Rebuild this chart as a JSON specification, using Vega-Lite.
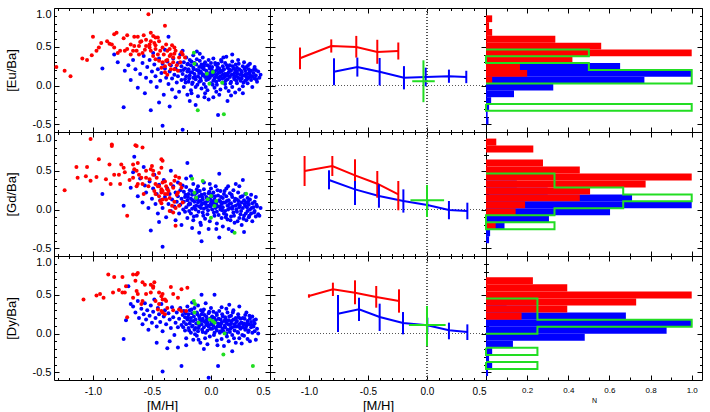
{
  "$schema": "https://vega.github.io/schema/vega-lite/v6.json",
  "background": "white",
  "padding": {"left": 4, "top": 7, "right": 5, "bottom": 0},
  "columns": 3,
  "spacing": 0,
  "bounds": "flush",
  "config": {
    "font": "Liberation Sans",
    "view": {"stroke": "#000000", "strokeWidth": 1},
    "axis": {"domain": false, "grid": false, "labels": false, "tickColor": "#000000", "tickWidth": 1, "labelColor": "#000000", "labelFont": "Liberation Sans", "labelFontSize": 11, "titleColor": "#000000", "titleFont": "Liberation Sans", "titleFontWeight": "normal", "titleFontSize": 13},
    "text": {"font": "Liberation Sans"}
  },
  "datasets": {
    "eu_thin": [
      {"mh":-0.92,"val":0.22},{"mh":-0.82,"val":0.40},{"mh":-0.79,"val":0.30},{"mh":-0.73,"val":0.19},{"mh":-0.70,"val":0.26},{"mh":-0.66,"val":0.33},{"mh":-0.64,"val":0.21},{"mh":-0.62,"val":-0.03},{"mh":-0.60,"val":0.15},{"mh":-0.58,"val":0.29},{"mh":-0.57,"val":0.38},{"mh":-0.55,"val":0.10},{"mh":-0.54,"val":0.24},{"mh":-0.52,"val":0.33},{"mh":-0.51,"val":0.05},{"mh":-0.50,"val":0.18},{"mh":-0.49,"val":0.42},{"mh":-0.48,"val":0.27},{"mh":-0.47,"val":0.12},{"mh":-0.46,"val":-0.02},{"mh":-0.45,"val":0.21},{"mh":-0.44,"val":0.35},{"mh":-0.43,"val":0.06},{"mh":-0.42,"val":0.16},{"mh":-0.41,"val":0.28},{"mh":-0.40,"val":-0.12},{"mh":-0.39,"val":0.22},{"mh":-0.38,"val":0.10},{"mh":-0.37,"val":0.31},{"mh":-0.36,"val":0.63},{"mh":-0.36,"val":0.02},{"mh":-0.35,"val":0.18},{"mh":-0.34,"val":0.26},{"mh":-0.33,"val":-0.05},{"mh":-0.33,"val":0.09},{"mh":-0.32,"val":0.35},{"mh":-0.31,"val":0.14},{"mh":-0.30,"val":0.22},{"mh":-0.30,"val":-0.15},{"mh":-0.29,"val":0.04},{"mh":-0.28,"val":0.29},{"mh":-0.28,"val":0.12},{"mh":-0.27,"val":-0.08},{"mh":-0.26,"val":0.19},{"mh":-0.26,"val":0.40},{"mh":-0.25,"val":0.07},{"mh":-0.25,"val":0.25},{"mh":-0.74,"val":-0.28},{"mh":-0.51,"val":-0.32},{"mh":-0.41,"val":-0.52},{"mh":-0.24,"val":-0.57},{"mh":-0.68,"val":0.07},{"mh":-0.56,"val":-0.10},{"mh":-0.39,"val":0.46},{"mh":-0.44,"val":-0.22},{"mh":-0.35,"val":-0.27},
      {"mh":-0.24,"val":0.15},{"mh":-0.23,"val":0.30},{"mh":-0.23,"val":-0.02},{"mh":-0.22,"val":0.22},{"mh":-0.22,"val":0.08},{"mh":-0.21,"val":0.36},{"mh":-0.21,"val":0.12},{"mh":-0.20,"val":-0.12},{"mh":-0.20,"val":0.18},{"mh":-0.20,"val":0.27},{"mh":-0.24,"val":0.45},
      {"mh":-0.19,"val":0.05},{"mh":-0.19,"val":0.21},{"mh":-0.18,"val":0.33},{"mh":-0.18,"val":0.13},{"mh":-0.17,"val":-0.06},{"mh":-0.17,"val":0.26},{"mh":-0.16,"val":0.17},{"mh":-0.16,"val":0.02},{"mh":-0.15,"val":0.39},{"mh":-0.15,"val":0.10},{"mh":-0.15,"val":0.23},{"mh":-0.18,"val":-0.20},
      {"mh":-0.14,"val":0.15},{"mh":-0.14,"val":0.29},{"mh":-0.13,"val":-0.02},{"mh":-0.13,"val":0.08},{"mh":-0.12,"val":0.20},{"mh":-0.12,"val":0.34},{"mh":-0.11,"val":0.12},{"mh":-0.11,"val":-0.14},{"mh":-0.10,"val":0.24},{"mh":-0.10,"val":0.05},{"mh":-0.10,"val":0.16},{"mh":-0.12,"val":0.44},{"mh":-0.13,"val":-0.25},
      {"mh":-0.09,"val":0.18},{"mh":-0.09,"val":0.09},{"mh":-0.08,"val":0.27},{"mh":-0.08,"val":-0.04},{"mh":-0.07,"val":0.13},{"mh":-0.07,"val":0.36},{"mh":-0.06,"val":0.21},{"mh":-0.06,"val":0.02},{"mh":-0.05,"val":0.11},{"mh":-0.05,"val":0.30},{"mh":-0.05,"val":-0.10},{"mh":-0.08,"val":0.16},{"mh":-0.06,"val":0.25},
      {"mh":-0.04,"val":0.19},{"mh":-0.04,"val":0.07},{"mh":-0.03,"val":0.26},{"mh":-0.03,"val":-0.06},{"mh":-0.02,"val":0.14},{"mh":-0.02,"val":0.33},{"mh":-0.01,"val":0.10},{"mh":-0.01,"val":0.22},{"mh":0.00,"val":0.03},{"mh":0.00,"val":0.17},{"mh":0.00,"val":0.29},{"mh":-0.02,"val":-0.18},{"mh":-0.03,"val":0.12},
      {"mh":0.01,"val":0.13},{"mh":0.01,"val":0.24},{"mh":0.02,"val":0.06},{"mh":0.02,"val":0.35},{"mh":0.03,"val":0.18},{"mh":0.03,"val":-0.03},{"mh":0.04,"val":0.11},{"mh":0.04,"val":0.27},{"mh":0.05,"val":0.20},{"mh":0.05,"val":0.01},{"mh":0.05,"val":0.14},{"mh":0.02,"val":-0.15},{"mh":0.03,"val":0.09},
      {"mh":0.06,"val":0.16},{"mh":0.06,"val":0.28},{"mh":0.07,"val":0.07},{"mh":0.07,"val":0.22},{"mh":0.08,"val":-0.05},{"mh":0.08,"val":0.12},{"mh":0.09,"val":0.31},{"mh":0.09,"val":0.18},{"mh":0.10,"val":0.04},{"mh":0.10,"val":0.14},{"mh":0.10,"val":0.25},{"mh":0.07,"val":-0.12},{"mh":0.08,"val":0.19},
      {"mh":0.11,"val":0.10},{"mh":0.11,"val":0.21},{"mh":0.12,"val":0.29},{"mh":0.12,"val":0.02},{"mh":0.13,"val":0.15},{"mh":0.13,"val":0.37},{"mh":0.14,"val":0.08},{"mh":0.14,"val":0.23},{"mh":0.15,"val":-0.07},{"mh":0.15,"val":0.17},{"mh":0.12,"val":0.12},{"mh":0.14,"val":-0.20},
      {"mh":0.16,"val":0.11},{"mh":0.16,"val":0.26},{"mh":0.17,"val":0.05},{"mh":0.17,"val":0.19},{"mh":0.18,"val":0.31},{"mh":0.18,"val":-0.02},{"mh":0.19,"val":0.14},{"mh":0.19,"val":0.22},{"mh":0.20,"val":0.08},{"mh":0.20,"val":0.16},{"mh":0.17,"val":-0.13},{"mh":0.18,"val":0.40},
      {"mh":0.21,"val":0.12},{"mh":0.21,"val":0.27},{"mh":0.22,"val":0.03},{"mh":0.22,"val":0.18},{"mh":0.23,"val":0.10},{"mh":0.23,"val":0.33},{"mh":0.24,"val":0.21},{"mh":0.24,"val":-0.05},{"mh":0.25,"val":0.14},{"mh":0.25,"val":0.06},{"mh":0.22,"val":0.23},
      {"mh":0.26,"val":0.17},{"mh":0.26,"val":0.09},{"mh":0.27,"val":0.25},{"mh":0.27,"val":-0.01},{"mh":0.28,"val":0.13},{"mh":0.28,"val":0.30},{"mh":0.29,"val":0.06},{"mh":0.29,"val":0.19},{"mh":0.30,"val":0.11},{"mh":0.30,"val":0.24},{"mh":0.27,"val":-0.10},
      {"mh":0.31,"val":0.15},{"mh":0.31,"val":0.03},{"mh":0.32,"val":0.21},{"mh":0.32,"val":0.10},{"mh":0.33,"val":0.28},{"mh":0.33,"val":0.14},{"mh":0.34,"val":0.07},{"mh":0.34,"val":0.19},{"mh":0.35,"val":0.12},{"mh":0.35,"val":-0.02},
      {"mh":0.36,"val":0.16},{"mh":0.37,"val":0.09},{"mh":0.37,"val":0.24},{"mh":0.38,"val":0.13},{"mh":0.39,"val":0.05},{"mh":0.40,"val":0.18},{"mh":0.41,"val":0.10},{"mh":0.42,"val":0.14},{"mh":0.38,"val":0.20},{"mh":0.06,"val":-0.38},
      {"mh":-0.195,"val":0.28},{"mh":-0.185,"val":0.09},{"mh":-0.175,"val":0.17},{"mh":-0.165,"val":0.31},{"mh":-0.155,"val":0.04},{"mh":-0.145,"val":0.21},{"mh":-0.135,"val":0.11},{"mh":-0.125,"val":0.27},{"mh":-0.115,"val":0.01},{"mh":-0.105,"val":0.19},{"mh":-0.095,"val":0.32},{"mh":-0.085,"val":0.06},{"mh":-0.075,"val":0.23},{"mh":-0.065,"val":0.14},{"mh":-0.055,"val":0.28},{"mh":-0.045,"val":-0.02},{"mh":-0.035,"val":0.17},{"mh":-0.025,"val":0.08},{"mh":-0.015,"val":0.25},{"mh":-0.005,"val":0.13},{"mh":0.005,"val":0.21},{"mh":0.015,"val":0.01},{"mh":0.025,"val":0.15},{"mh":0.035,"val":0.29},{"mh":0.045,"val":0.05},{"mh":0.055,"val":0.24},{"mh":0.065,"val":0.10},{"mh":0.075,"val":0.17},{"mh":0.085,"val":0.33},{"mh":0.095,"val":0.09},{"mh":0.105,"val":0.20},{"mh":0.115,"val":0.15},{"mh":0.125,"val":0.06},{"mh":0.135,"val":0.26},{"mh":0.145,"val":0.13},{"mh":0.155,"val":0.21},{"mh":0.165,"val":0.03},{"mh":0.175,"val":0.14},{"mh":0.185,"val":0.25},{"mh":0.195,"val":0.10},{"mh":0.205,"val":0.20},{"mh":0.215,"val":0.06},{"mh":0.225,"val":0.15},{"mh":0.235,"val":0.28},{"mh":0.245,"val":0.09},{"mh":0.255,"val":0.19},{"mh":0.265,"val":0.13},{"mh":0.275,"val":0.04},{"mh":0.285,"val":0.22},{"mh":0.295,"val":0.15},{"mh":0.305,"val":0.08},{"mh":0.315,"val":0.26},{"mh":0.325,"val":0.17},{"mh":0.345,"val":0.11},{"mh":0.365,"val":0.21},{"mh":0.385,"val":0.08},{"mh":-0.215,"val":0.04},{"mh":-0.235,"val":0.20},{"mh":-0.165,"val":-0.10},{"mh":0.045,"val":-0.08},{"mh":0.125,"val":-0.03},{"mh":0.205,"val":-0.09},{"mh":-0.055,"val":-0.15},{"mh":0.105,"val":0.36},{"mh":-0.095,"val":0.41}
    ],
    "eu_thick": [
      {"mh":-1.31,"val":0.24},{"mh":-1.24,"val":0.19},{"mh":-1.19,"val":0.12},{"mh":-1.09,"val":0.35},{"mh":-1.05,"val":0.33},{"mh":-1.01,"val":0.39},{"mh":-1.00,"val":0.63},{"mh":-0.97,"val":0.45},{"mh":-0.95,"val":0.49},{"mh":-0.93,"val":0.55},{"mh":-0.88,"val":0.57},{"mh":-0.86,"val":0.54},{"mh":-0.84,"val":0.53},{"mh":-0.82,"val":0.66},{"mh":-0.80,"val":0.68},{"mh":-0.82,"val":0.49},{"mh":-0.79,"val":0.42},{"mh":-0.77,"val":0.45},{"mh":-0.73,"val":0.45},{"mh":-0.71,"val":0.65},{"mh":-0.65,"val":0.63},{"mh":-0.62,"val":0.63},{"mh":-0.65,"val":0.51},{"mh":-0.63,"val":0.45},{"mh":-0.61,"val":0.51},{"mh":-0.57,"val":0.65},{"mh":-0.55,"val":0.59},{"mh":-0.53,"val":0.92},{"mh":-0.51,"val":0.68},{"mh":-0.49,"val":0.64},{"mh":-0.47,"val":0.62},{"mh":-0.55,"val":0.51},{"mh":-0.52,"val":0.49},{"mh":-0.51,"val":0.45},{"mh":-0.47,"val":0.47},{"mh":-0.45,"val":0.40},{"mh":-0.43,"val":0.45},{"mh":-0.41,"val":0.49},{"mh":-0.39,"val":0.77},{"mh":-0.38,"val":0.53},{"mh":-0.37,"val":0.45},{"mh":-0.35,"val":0.47},{"mh":-0.34,"val":0.40},{"mh":-0.32,"val":0.36},{"mh":-0.31,"val":0.49},{"mh":-0.30,"val":0.45},{"mh":-0.44,"val":0.32},{"mh":-0.41,"val":0.30},{"mh":-0.39,"val":0.25},{"mh":-0.38,"val":0.32},{"mh":-0.35,"val":0.27},{"mh":-0.34,"val":0.21},{"mh":-0.32,"val":0.30},{"mh":-0.31,"val":0.21},{"mh":-0.39,"val":0.17},{"mh":-0.37,"val":0.14},{"mh":-0.27,"val":0.36},{"mh":-0.24,"val":0.40},{"mh":-0.61,"val":0.40},{"mh":-0.58,"val":0.42},{"mh":-0.49,"val":0.38},{"mh":-0.47,"val":0.34},{"mh":-0.48,"val":0.55},{"mh":-0.52,"val":0.53},{"mh":-0.44,"val":0.57},{"mh":-0.59,"val":0.57},{"mh":-0.66,"val":0.45},{"mh":-0.68,"val":0.40},{"mh":-0.71,"val":0.47},{"mh":-0.29,"val":0.26},{"mh":-0.26,"val":0.30},{"mh":-0.42,"val":0.23},{"mh":-0.47,"val":0.52},{"mh":-0.56,"val":0.46},{"mh":-0.35,"val":0.38},{"mh":-0.31,"val":0.41},{"mh":-0.22,"val":0.36},{"mh":-0.45,"val":0.62},{"mh":-0.60,"val":0.56},{"mh":-0.68,"val":0.53},{"mh":-0.74,"val":0.61},{"mh":-0.40,"val":0.40},{"mh":-0.33,"val":0.52},{"mh":-0.37,"val":0.33},{"mh":-0.51,"val":0.57},{"mh":-0.28,"val":0.19},{"mh":-0.25,"val":0.43}
    ],
    "eu_hamr": [
      {"mh":-0.145,"val":0.424},{"mh":-0.14,"val":0.282},{"mh":-0.035,"val":0.153},{"mh":0.016,"val":0.174},{"mh":-0.013,"val":0.024},{"mh":0.095,"val":0.037},{"mh":-0.112,"val":-0.32},{"mh":0.109,"val":-0.372}
    ],
    "gd_thin": [
      {"mh":-0.92,"val":0.20},{"mh":-0.68,"val":0.28},{"mh":-0.65,"val":0.68},{"mh":-0.62,"val":0.17},{"mh":-0.60,"val":0.40},{"mh":-0.58,"val":0.09},{"mh":-0.56,"val":0.31},{"mh":-0.55,"val":0.22},{"mh":-0.53,"val":0.02},{"mh":-0.52,"val":0.36},{"mh":-0.51,"val":-0.27},{"mh":-0.50,"val":0.14},{"mh":-0.49,"val":0.27},{"mh":-0.48,"val":0.45},{"mh":-0.47,"val":0.07},{"mh":-0.46,"val":0.20},{"mh":-0.45,"val":-0.05},{"mh":-0.44,"val":0.32},{"mh":-0.43,"val":0.12},{"mh":-0.42,"val":0.24},{"mh":-0.41,"val":-0.48},{"mh":-0.41,"val":0.02},{"mh":-0.40,"val":0.38},{"mh":-0.39,"val":0.16},{"mh":-0.38,"val":-0.10},{"mh":-0.37,"val":0.27},{"mh":-0.36,"val":0.07},{"mh":-0.35,"val":0.20},{"mh":-0.34,"val":0.50},{"mh":-0.34,"val":-0.02},{"mh":-0.33,"val":0.13},{"mh":-0.32,"val":0.30},{"mh":-0.31,"val":0.04},{"mh":-0.30,"val":0.22},{"mh":-0.30,"val":-0.14},{"mh":-0.29,"val":0.10},{"mh":-0.28,"val":0.35},{"mh":-0.28,"val":0.17},{"mh":-0.27,"val":-0.05},{"mh":-0.26,"val":0.25},{"mh":-0.26,"val":0.06},{"mh":-0.25,"val":0.14},{"mh":-0.25,"val":-0.20},{"mh":-0.24,"val":0.31},{"mh":-0.20,"val":0.60},{"mh":-0.74,"val":0.05},{"mh":-0.66,"val":0.48},{"mh":-0.57,"val":0.55},{"mh":-0.44,"val":-0.16},
      {"mh":-0.23,"val":0.10},{"mh":-0.23,"val":0.23},{"mh":-0.22,"val":-0.03},{"mh":-0.22,"val":0.16},{"mh":-0.21,"val":0.03},{"mh":-0.21,"val":0.29},{"mh":-0.20,"val":-0.11},{"mh":-0.20,"val":0.12},{"mh":-0.19,"val":0.20},{"mh":-0.19,"val":0.06},{"mh":-0.21,"val":0.40},
      {"mh":-0.18,"val":0.08},{"mh":-0.18,"val":0.25},{"mh":-0.17,"val":-0.05},{"mh":-0.17,"val":0.14},{"mh":-0.16,"val":0.01},{"mh":-0.16,"val":0.19},{"mh":-0.15,"val":0.33},{"mh":-0.15,"val":-0.14},{"mh":-0.14,"val":0.10},{"mh":-0.14,"val":0.04},{"mh":-0.16,"val":-0.24},{"mh":-0.17,"val":0.43},
      {"mh":-0.13,"val":0.15},{"mh":-0.13,"val":0.00},{"mh":-0.12,"val":0.22},{"mh":-0.12,"val":-0.08},{"mh":-0.11,"val":0.09},{"mh":-0.11,"val":0.30},{"mh":-0.10,"val":0.04},{"mh":-0.10,"val":0.17},{"mh":-0.09,"val":-0.17},{"mh":-0.09,"val":0.11},{"mh":-0.12,"val":0.26},{"mh":-0.10,"val":-0.30},
      {"mh":-0.08,"val":0.06},{"mh":-0.08,"val":0.19},{"mh":-0.07,"val":-0.04},{"mh":-0.07,"val":0.13},{"mh":-0.06,"val":0.26},{"mh":-0.06,"val":0.01},{"mh":-0.05,"val":0.09},{"mh":-0.05,"val":-0.12},{"mh":-0.04,"val":0.16},{"mh":-0.04,"val":0.03},{"mh":-0.08,"val":-0.41},{"mh":-0.06,"val":0.35},{"mh":-0.07,"val":0.08},
      {"mh":-0.03,"val":0.11},{"mh":-0.03,"val":-0.06},{"mh":-0.02,"val":0.21},{"mh":-0.02,"val":0.05},{"mh":-0.01,"val":0.14},{"mh":-0.01,"val":-0.15},{"mh":0.00,"val":0.08},{"mh":0.00,"val":0.27},{"mh":0.01,"val":0.00},{"mh":0.01,"val":0.17},{"mh":-0.02,"val":-0.25},{"mh":0.00,"val":0.12},{"mh":-0.01,"val":0.33},
      {"mh":0.02,"val":0.06},{"mh":0.02,"val":0.22},{"mh":0.03,"val":-0.08},{"mh":0.03,"val":0.13},{"mh":0.04,"val":0.02},{"mh":0.04,"val":0.30},{"mh":0.05,"val":0.10},{"mh":0.05,"val":-0.18},{"mh":0.06,"val":0.18},{"mh":0.06,"val":0.04},{"mh":0.03,"val":0.08},{"mh":0.05,"val":-0.03},
      {"mh":0.07,"val":0.46},{"mh":0.07,"val":-0.36},{"mh":0.07,"val":0.12},{"mh":0.08,"val":0.00},{"mh":0.08,"val":0.24},{"mh":0.09,"val":0.07},{"mh":0.09,"val":-0.11},{"mh":0.10,"val":0.15},{"mh":0.10,"val":0.03},{"mh":0.11,"val":0.20},{"mh":0.11,"val":-0.05},{"mh":0.08,"val":0.10},{"mh":0.10,"val":-0.22},
      {"mh":0.12,"val":0.09},{"mh":0.12,"val":-0.02},{"mh":0.13,"val":0.17},{"mh":0.13,"val":0.27},{"mh":0.14,"val":0.05},{"mh":0.14,"val":-0.13},{"mh":0.15,"val":0.12},{"mh":0.15,"val":-0.25},{"mh":0.16,"val":0.02},{"mh":0.16,"val":0.21},{"mh":0.13,"val":-0.07},
      {"mh":0.17,"val":0.08},{"mh":0.17,"val":-0.09},{"mh":0.18,"val":0.16},{"mh":0.18,"val":0.01},{"mh":0.19,"val":0.25},{"mh":0.19,"val":-0.04},{"mh":0.20,"val":0.11},{"mh":0.20,"val":-0.17},{"mh":0.21,"val":0.05},{"mh":0.21,"val":0.33},{"mh":0.18,"val":-0.28},
      {"mh":0.22,"val":0.13},{"mh":0.22,"val":-0.03},{"mh":0.23,"val":0.07},{"mh":0.23,"val":0.22},{"mh":0.24,"val":-0.11},{"mh":0.24,"val":0.03},{"mh":0.25,"val":0.16},{"mh":0.25,"val":-0.06},{"mh":0.26,"val":0.09},{"mh":0.26,"val":-0.20},{"mh":0.24,"val":0.30},
      {"mh":0.27,"val":0.38},{"mh":0.27,"val":0.02},{"mh":0.28,"val":0.12},{"mh":0.28,"val":-0.08},{"mh":0.29,"val":0.05},{"mh":0.29,"val":0.20},{"mh":0.30,"val":-0.14},{"mh":0.30,"val":0.09},{"mh":0.31,"val":-0.02},{"mh":0.31,"val":0.15},{"mh":0.28,"val":-0.29},
      {"mh":0.32,"val":0.06},{"mh":0.32,"val":-0.10},{"mh":0.33,"val":0.13},{"mh":0.33,"val":0.00},{"mh":0.34,"val":-0.05},{"mh":0.34,"val":0.19},{"mh":0.35,"val":0.08},{"mh":0.35,"val":-0.15},{"mh":0.36,"val":0.03},
      {"mh":0.37,"val":-0.02},{"mh":0.37,"val":0.10},{"mh":0.38,"val":-0.09},{"mh":0.39,"val":0.04},{"mh":0.40,"val":-0.06},{"mh":0.41,"val":-0.08},{"mh":0.38,"val":0.16},{"mh":0.42,"val":0.02},
      {"mh":-0.195,"val":0.16},{"mh":-0.185,"val":-0.02},{"mh":-0.175,"val":0.07},{"mh":-0.165,"val":0.24},{"mh":-0.155,"val":0.12},{"mh":-0.145,"val":-0.09},{"mh":-0.135,"val":0.20},{"mh":-0.125,"val":0.05},{"mh":-0.115,"val":0.13},{"mh":-0.105,"val":-0.03},{"mh":-0.095,"val":0.24},{"mh":-0.085,"val":0.02},{"mh":-0.075,"val":0.16},{"mh":-0.065,"val":-0.08},{"mh":-0.055,"val":0.20},{"mh":-0.045,"val":0.07},{"mh":-0.035,"val":0.15},{"mh":-0.025,"val":-0.01},{"mh":-0.015,"val":0.23},{"mh":-0.005,"val":0.04},{"mh":0.005,"val":0.19},{"mh":0.015,"val":0.10},{"mh":0.025,"val":-0.04},{"mh":0.035,"val":0.17},{"mh":0.045,"val":0.06},{"mh":0.055,"val":0.25},{"mh":0.065,"val":-0.07},{"mh":0.075,"val":0.04},{"mh":0.085,"val":0.16},{"mh":0.095,"val":-0.01},{"mh":0.105,"val":0.09},{"mh":0.115,"val":0.24},{"mh":0.125,"val":-0.10},{"mh":0.135,"val":0.11},{"mh":0.145,"val":0.00},{"mh":0.155,"val":0.07},{"mh":0.165,"val":-0.14},{"mh":0.175,"val":0.19},{"mh":0.185,"val":0.04},{"mh":0.195,"val":-0.08},{"mh":0.205,"val":0.14},{"mh":0.215,"val":0.00},{"mh":0.225,"val":-0.15},{"mh":0.235,"val":0.11},{"mh":0.245,"val":0.05},{"mh":0.255,"val":-0.02},{"mh":0.265,"val":0.17},{"mh":0.275,"val":-0.12},{"mh":0.285,"val":0.07},{"mh":0.295,"val":-0.05},{"mh":0.305,"val":0.03},{"mh":0.315,"val":0.10},{"mh":0.325,"val":-0.08},{"mh":0.345,"val":0.02},{"mh":0.365,"val":-0.04},{"mh":0.385,"val":0.06},{"mh":-0.215,"val":0.19},{"mh":-0.235,"val":0.00},{"mh":0.045,"val":-0.25},{"mh":0.145,"val":0.30},{"mh":-0.085,"val":-0.20}
    ],
    "gd_thick": [
      {"mh":-1.24,"val":0.25},{"mh":-1.02,"val":0.91},{"mh":-0.84,"val":0.84},{"mh":-0.84,"val":0.82},{"mh":-0.64,"val":0.83},{"mh":-0.63,"val":0.82},{"mh":-0.58,"val":0.80},{"mh":-0.95,"val":0.65},{"mh":-1.13,"val":0.41},{"mh":-1.06,"val":0.43},{"mh":-0.97,"val":0.42},{"mh":-1.02,"val":0.37},{"mh":-1.14,"val":0.55},{"mh":-1.05,"val":0.55},{"mh":-0.86,"val":0.58},{"mh":-0.76,"val":0.58},{"mh":-0.74,"val":0.54},{"mh":-0.78,"val":0.45},{"mh":-0.77,"val":0.33},{"mh":-0.85,"val":0.33},{"mh":-0.66,"val":0.58},{"mh":-0.65,"val":0.52},{"mh":-0.63,"val":0.50},{"mh":-0.61,"val":0.45},{"mh":-0.59,"val":0.41},{"mh":-0.66,"val":0.41},{"mh":-0.62,"val":0.33},{"mh":-0.58,"val":0.33},{"mh":-0.55,"val":0.50},{"mh":-0.51,"val":0.52},{"mh":-0.49,"val":0.50},{"mh":-0.49,"val":0.45},{"mh":-0.55,"val":0.41},{"mh":-0.52,"val":0.39},{"mh":-0.42,"val":0.65},{"mh":-0.42,"val":0.54},{"mh":-0.41,"val":0.63},{"mh":-0.41,"val":0.35},{"mh":-0.47,"val":0.33},{"mh":-0.45,"val":0.30},{"mh":-0.44,"val":0.30},{"mh":-0.42,"val":0.26},{"mh":-0.41,"val":0.24},{"mh":-0.39,"val":0.20},{"mh":-0.37,"val":0.20},{"mh":-0.38,"val":0.30},{"mh":-0.37,"val":0.26},{"mh":-0.34,"val":0.33},{"mh":-0.32,"val":0.28},{"mh":-0.31,"val":0.37},{"mh":-0.47,"val":0.20},{"mh":-0.44,"val":0.17},{"mh":-0.43,"val":0.11},{"mh":-0.41,"val":0.13},{"mh":-0.38,"val":0.13},{"mh":-0.42,"val":0.22},{"mh":-0.30,"val":0.43},{"mh":-0.27,"val":0.41},{"mh":-0.25,"val":0.28},{"mh":-0.28,"val":0.22},{"mh":-0.30,"val":0.02},{"mh":-0.35,"val":-0.02},{"mh":-0.32,"val":-0.04},{"mh":-0.27,"val":0.05},{"mh":-0.24,"val":0.09},{"mh":-0.30,"val":-0.21},{"mh":-0.71,"val":-0.08},{"mh":-0.63,"val":0.30},{"mh":-0.89,"val":0.39},{"mh":-0.82,"val":0.45},{"mh":-0.73,"val":0.48},{"mh":-0.35,"val":0.15},{"mh":-0.31,"val":0.10},{"mh":-0.46,"val":0.41},{"mh":-0.53,"val":0.30},{"mh":-0.57,"val":0.20},{"mh":-0.39,"val":0.36},{"mh":-0.48,"val":0.24},{"mh":-0.29,"val":0.19},{"mh":-0.33,"val":0.05},{"mh":-0.26,"val":0.33},{"mh":-0.44,"val":0.47},{"mh":-0.69,"val":0.38},{"mh":-0.36,"val":0.24},{"mh":-0.42,"val":0.08},{"mh":-0.50,"val":0.56},{"mh":-0.62,"val":0.60}
    ],
    "gd_hamr": [
      {"mh":-0.16,"val":0.398},{"mh":-0.14,"val":0.217},{"mh":-0.126,"val":0.153},{"mh":-0.027,"val":0.131},{"mh":0.001,"val":0.174},{"mh":0.03,"val":0.045},{"mh":0.044,"val":0.11},{"mh":-0.07,"val":0.368},{"mh":0.0,"val":-0.105},{"mh":0.2,"val":-0.299},{"mh":0.298,"val":0.204}
    ],
    "dy_thin": [
      {"mh":-0.74,"val":-0.07},{"mh":-0.72,"val":0.17},{"mh":-0.70,"val":0.61},{"mh":-0.68,"val":0.38},{"mh":-0.66,"val":0.35},{"mh":-0.64,"val":0.27},{"mh":-0.62,"val":0.42},{"mh":-0.61,"val":0.20},{"mh":-0.59,"val":0.32},{"mh":-0.58,"val":0.12},{"mh":-0.57,"val":0.25},{"mh":-0.56,"val":0.39},{"mh":-0.55,"val":0.18},{"mh":-0.54,"val":0.30},{"mh":-0.53,"val":0.05},{"mh":-0.52,"val":0.23},{"mh":-0.51,"val":0.36},{"mh":-0.50,"val":0.14},{"mh":-0.49,"val":0.28},{"mh":-0.48,"val":0.44},{"mh":-0.47,"val":0.20},{"mh":-0.46,"val":0.09},{"mh":-0.45,"val":0.33},{"mh":-0.44,"val":0.25},{"mh":-0.43,"val":0.15},{"mh":-0.42,"val":0.38},{"mh":-0.41,"val":-0.49},{"mh":-0.41,"val":0.03},{"mh":-0.40,"val":0.22},{"mh":-0.39,"val":0.30},{"mh":-0.38,"val":0.12},{"mh":-0.37,"val":-0.19},{"mh":-0.36,"val":0.26},{"mh":-0.35,"val":0.18},{"mh":-0.34,"val":0.07},{"mh":-0.33,"val":0.34},{"mh":-0.32,"val":0.21},{"mh":-0.31,"val":-0.02},{"mh":-0.30,"val":0.14},{"mh":-0.29,"val":0.27},{"mh":-0.28,"val":-0.18},{"mh":-0.28,"val":0.08},{"mh":-0.27,"val":0.19},{"mh":-0.26,"val":0.33},{"mh":-0.25,"val":-0.42},{"mh":-0.25,"val":0.11},{"mh":-0.24,"val":0.24},{"mh":-0.46,"val":-0.12},{"mh":-0.35,"val":-0.10},
      {"mh":-0.23,"val":0.15},{"mh":-0.23,"val":0.29},{"mh":-0.22,"val":0.04},{"mh":-0.22,"val":0.21},{"mh":-0.21,"val":-0.06},{"mh":-0.21,"val":0.12},{"mh":-0.20,"val":0.35},{"mh":-0.20,"val":0.18},{"mh":-0.19,"val":0.07},{"mh":-0.19,"val":0.25},{"mh":-0.21,"val":-0.15},
      {"mh":-0.18,"val":0.13},{"mh":-0.18,"val":0.30},{"mh":-0.17,"val":0.01},{"mh":-0.17,"val":0.20},{"mh":-0.16,"val":0.09},{"mh":-0.16,"val":0.26},{"mh":-0.15,"val":-0.08},{"mh":-0.15,"val":0.16},{"mh":-0.14,"val":0.05},{"mh":-0.14,"val":0.33},{"mh":-0.16,"val":0.40},
      {"mh":-0.13,"val":0.18},{"mh":-0.13,"val":0.07},{"mh":-0.12,"val":0.27},{"mh":-0.12,"val":-0.03},{"mh":-0.11,"val":0.14},{"mh":-0.11,"val":0.36},{"mh":-0.10,"val":0.10},{"mh":-0.10,"val":0.22},{"mh":-0.09,"val":-0.12},{"mh":-0.09,"val":0.16},{"mh":-0.08,"val":0.50},{"mh":-0.11,"val":0.03},
      {"mh":-0.08,"val":0.12},{"mh":-0.08,"val":0.25},{"mh":-0.07,"val":0.02},{"mh":-0.07,"val":0.19},{"mh":-0.06,"val":0.31},{"mh":-0.06,"val":0.08},{"mh":-0.05,"val":0.15},{"mh":-0.05,"val":-0.06},{"mh":-0.04,"val":0.22},{"mh":-0.04,"val":0.11},{"mh":-0.06,"val":-0.20},{"mh":-0.07,"val":0.28},
      {"mh":-0.03,"val":0.14},{"mh":-0.03,"val":0.04},{"mh":-0.02,"val":0.26},{"mh":-0.02,"val":-0.57},{"mh":-0.02,"val":0.09},{"mh":-0.01,"val":0.19},{"mh":-0.01,"val":-0.04},{"mh":0.00,"val":0.12},{"mh":0.00,"val":0.33},{"mh":0.01,"val":0.06},{"mh":0.01,"val":0.22},{"mh":-0.03,"val":-0.14},{"mh":0.00,"val":0.16},
      {"mh":0.02,"val":0.10},{"mh":0.02,"val":0.28},{"mh":0.03,"val":0.50},{"mh":0.03,"val":0.01},{"mh":0.04,"val":0.17},{"mh":0.04,"val":0.07},{"mh":0.05,"val":0.24},{"mh":0.05,"val":-0.09},{"mh":0.06,"val":0.13},{"mh":0.06,"val":-0.42},{"mh":0.03,"val":0.20},{"mh":0.05,"val":0.04},
      {"mh":0.07,"val":0.11},{"mh":0.07,"val":0.29},{"mh":0.08,"val":0.03},{"mh":0.08,"val":0.18},{"mh":0.09,"val":-0.07},{"mh":0.09,"val":0.14},{"mh":0.10,"val":0.22},{"mh":0.10,"val":0.06},{"mh":0.11,"val":0.16},{"mh":0.11,"val":-0.16},{"mh":0.08,"val":0.09},{"mh":0.09,"val":0.34},
      {"mh":0.12,"val":0.08},{"mh":0.12,"val":0.21},{"mh":0.13,"val":0.00},{"mh":0.13,"val":0.14},{"mh":0.14,"val":0.27},{"mh":0.14,"val":0.05},{"mh":0.15,"val":0.17},{"mh":0.15,"val":-0.10},{"mh":0.16,"val":0.11},{"mh":0.16,"val":0.02},{"mh":0.13,"val":0.32},
      {"mh":0.17,"val":0.13},{"mh":0.17,"val":0.23},{"mh":0.18,"val":-0.02},{"mh":0.18,"val":0.08},{"mh":0.19,"val":0.18},{"mh":0.19,"val":0.30},{"mh":0.20,"val":0.04},{"mh":0.20,"val":0.12},{"mh":0.21,"val":-0.12},{"mh":0.21,"val":0.20},{"mh":0.18,"val":-0.23},
      {"mh":0.22,"val":0.09},{"mh":0.22,"val":0.16},{"mh":0.23,"val":0.25},{"mh":0.23,"val":0.01},{"mh":0.24,"val":0.12},{"mh":0.24,"val":-0.06},{"mh":0.25,"val":0.19},{"mh":0.25,"val":0.06},{"mh":0.26,"val":0.14},{"mh":0.26,"val":-0.13},{"mh":0.24,"val":0.35},
      {"mh":0.27,"val":0.08},{"mh":0.27,"val":0.20},{"mh":0.28,"val":-0.03},{"mh":0.28,"val":0.13},{"mh":0.29,"val":0.05},{"mh":0.29,"val":0.24},{"mh":0.30,"val":0.27},{"mh":0.30,"val":0.10},{"mh":0.31,"val":-0.07},{"mh":0.31,"val":0.16},
      {"mh":0.32,"val":0.04},{"mh":0.32,"val":0.12},{"mh":0.33,"val":0.19},{"mh":0.33,"val":-0.10},{"mh":0.34,"val":0.08},{"mh":0.34,"val":0.15},{"mh":0.35,"val":0.01},{"mh":0.35,"val":0.22},{"mh":0.36,"val":0.09},
      {"mh":0.37,"val":0.13},{"mh":0.37,"val":0.03},{"mh":0.38,"val":-0.08},{"mh":0.38,"val":0.18},{"mh":0.39,"val":0.06},{"mh":0.40,"val":0.00},
      {"mh":-0.195,"val":0.21},{"mh":-0.185,"val":0.04},{"mh":-0.175,"val":0.16},{"mh":-0.165,"val":0.31},{"mh":-0.155,"val":0.10},{"mh":-0.145,"val":0.22},{"mh":-0.135,"val":-0.01},{"mh":-0.125,"val":0.13},{"mh":-0.115,"val":0.25},{"mh":-0.105,"val":0.07},{"mh":-0.095,"val":0.19},{"mh":-0.085,"val":0.30},{"mh":-0.075,"val":0.05},{"mh":-0.065,"val":0.16},{"mh":-0.055,"val":0.24},{"mh":-0.045,"val":0.01},{"mh":-0.035,"val":0.18},{"mh":-0.025,"val":0.11},{"mh":-0.015,"val":0.28},{"mh":-0.005,"val":0.06},{"mh":0.005,"val":0.20},{"mh":0.015,"val":0.12},{"mh":0.025,"val":-0.02},{"mh":0.035,"val":0.15},{"mh":0.045,"val":0.26},{"mh":0.055,"val":0.09},{"mh":0.065,"val":0.19},{"mh":0.075,"val":0.01},{"mh":0.085,"val":0.13},{"mh":0.095,"val":0.25},{"mh":0.105,"val":0.03},{"mh":0.115,"val":0.10},{"mh":0.125,"val":0.18},{"mh":0.135,"val":-0.04},{"mh":0.145,"val":0.12},{"mh":0.155,"val":0.22},{"mh":0.165,"val":0.06},{"mh":0.175,"val":0.16},{"mh":0.185,"val":0.27},{"mh":0.195,"val":-0.06},{"mh":0.205,"val":0.09},{"mh":0.215,"val":0.15},{"mh":0.225,"val":0.02},{"mh":0.235,"val":0.21},{"mh":0.245,"val":0.08},{"mh":0.255,"val":0.14},{"mh":0.265,"val":-0.02},{"mh":0.275,"val":0.11},{"mh":0.285,"val":0.19},{"mh":0.295,"val":0.07},{"mh":0.305,"val":0.13},{"mh":0.315,"val":0.02},{"mh":0.325,"val":0.23},{"mh":0.345,"val":0.11},{"mh":0.365,"val":0.17},{"mh":-0.215,"val":0.26},{"mh":-0.235,"val":0.08},{"mh":0.055,"val":-0.15},{"mh":-0.105,"val":-0.08},{"mh":0.155,"val":0.37},{"mh":-0.045,"val":0.39}
    ],
    "dy_thick": [
      {"mh":-1.08,"val":0.44},{"mh":-0.97,"val":0.49},{"mh":-0.94,"val":0.51},{"mh":-0.91,"val":0.46},{"mh":-0.87,"val":0.76},{"mh":-0.82,"val":0.73},{"mh":-0.78,"val":0.56},{"mh":-0.75,"val":0.53},{"mh":-0.73,"val":0.53},{"mh":-0.71,"val":0.21},{"mh":-0.75,"val":0.73},{"mh":-0.66,"val":0.76},{"mh":-0.63,"val":0.76},{"mh":-0.62,"val":0.78},{"mh":-0.64,"val":0.68},{"mh":-0.62,"val":0.51},{"mh":-0.58,"val":0.66},{"mh":-0.51,"val":0.63},{"mh":-0.49,"val":0.61},{"mh":-0.49,"val":0.59},{"mh":-0.48,"val":0.66},{"mh":-0.44,"val":0.53},{"mh":-0.42,"val":0.48},{"mh":-0.41,"val":0.51},{"mh":-0.41,"val":0.44},{"mh":-0.39,"val":0.44},{"mh":-0.38,"val":0.42},{"mh":-0.44,"val":0.38},{"mh":-0.42,"val":0.29},{"mh":-0.41,"val":0.27},{"mh":-0.34,"val":0.60},{"mh":-0.25,"val":0.57},{"mh":-0.20,"val":0.59},{"mh":-0.27,"val":0.31},{"mh":-0.25,"val":0.29},{"mh":-0.21,"val":0.29},{"mh":-0.28,"val":0.46},{"mh":-0.32,"val":0.30},{"mh":-0.59,"val":0.38},{"mh":-0.58,"val":0.42},{"mh":-0.56,"val":0.63},{"mh":-0.72,"val":0.61},{"mh":-0.83,"val":0.53},{"mh":-0.55,"val":0.51},{"mh":-0.47,"val":0.42},{"mh":-0.37,"val":0.33},{"mh":-0.51,"val":0.53},{"mh":-0.63,"val":0.55},{"mh":-0.66,"val":0.46},{"mh":-0.32,"val":0.51},{"mh":-0.39,"val":0.25},{"mh":-0.45,"val":0.31}
    ],
    "dy_hamr": [
      {"mh":-0.145,"val":0.42},{"mh":-0.135,"val":0.38},{"mh":-0.14,"val":0.27},{"mh":-0.105,"val":0.14},{"mh":-0.01,"val":0.18},{"mh":0.015,"val":0.16},{"mh":0.03,"val":0.14},{"mh":0.115,"val":0.0},{"mh":0.105,"val":-0.27},{"mh":0.355,"val":-0.42}
    ],
    "eu_means": [
      {"pop":"thick","mh":-1.076,"mean":0.351,"lo":0.21,"hi":0.49},
      {"pop":"thick","mh":-0.811,"mean":0.51,"lo":0.425,"hi":0.595},
      {"pop":"thick","mh":-0.599,"mean":0.497,"lo":0.36,"hi":0.64},
      {"pop":"thick","mh":-0.421,"mean":0.432,"lo":0.28,"hi":0.59},
      {"pop":"thick","mh":-0.243,"mean":0.445,"lo":0.335,"hi":0.555},
      {"pop":"thin","mh":-0.788,"mean":0.177,"lo":0.003,"hi":0.351},
      {"pop":"thin","mh":-0.59,"mean":0.237,"lo":0.115,"hi":0.36},
      {"pop":"thin","mh":-0.401,"mean":0.177,"lo":0.0,"hi":0.355},
      {"pop":"thin","mh":-0.195,"mean":0.1,"lo":-0.05,"hi":0.25},
      {"pop":"thin","mh":-0.011,"mean":0.11,"lo":-0.01,"hi":0.23},
      {"pop":"thin","mh":0.186,"mean":0.12,"lo":0.035,"hi":0.205},
      {"pop":"thin","mh":0.333,"mean":0.11,"lo":0.03,"hi":0.19},
      {"pop":"hamr","mh":-0.03,"mean":0.055,"lo":-0.215,"hi":0.325,"mhlo":-0.125,"mhhi":0.066}
    ],
    "gd_means": [
      {"pop":"thick","mh":-1.037,"mean":0.497,"lo":0.303,"hi":0.69},
      {"pop":"thick","mh":-0.802,"mean":0.561,"lo":0.432,"hi":0.69},
      {"pop":"thick","mh":-0.61,"mean":0.441,"lo":0.217,"hi":0.648},
      {"pop":"thick","mh":-0.421,"mean":0.333,"lo":0.152,"hi":0.497},
      {"pop":"thick","mh":-0.243,"mean":0.196,"lo":-0.01,"hi":0.368},
      {"pop":"thin","mh":-0.83,"mean":0.381,"lo":0.26,"hi":0.506},
      {"pop":"thin","mh":-0.61,"mean":0.26,"lo":0.058,"hi":0.368},
      {"pop":"thin","mh":-0.407,"mean":0.174,"lo":0.023,"hi":0.325},
      {"pop":"thin","mh":-0.2,"mean":0.11,"lo":-0.04,"hi":0.26},
      {"pop":"thin","mh":0.003,"mean":0.058,"lo":0.008,"hi":0.108},
      {"pop":"thin","mh":0.186,"mean":-0.006,"lo":-0.126,"hi":0.11},
      {"pop":"thin","mh":0.342,"mean":-0.019,"lo":-0.126,"hi":0.088},
      {"pop":"hamr","mh":0.0,"mean":0.119,"lo":-0.097,"hi":0.316,"mhlo":-0.14,"mhhi":0.145}
    ],
    "dy_means": [
      {"pop":"thick","mh":-1.0,"mean":0.484,"lo":0.462,"hi":0.506},
      {"pop":"thick","mh":-0.797,"mean":0.57,"lo":0.484,"hi":0.656},
      {"pop":"thick","mh":-0.61,"mean":0.527,"lo":0.377,"hi":0.686},
      {"pop":"thick","mh":-0.43,"mean":0.471,"lo":0.333,"hi":0.613},
      {"pop":"thick","mh":-0.237,"mean":0.419,"lo":0.269,"hi":0.57},
      {"pop":"thin","mh":-0.754,"mean":0.256,"lo":0.019,"hi":0.497},
      {"pop":"thin","mh":-0.576,"mean":0.312,"lo":0.161,"hi":0.462},
      {"pop":"thin","mh":-0.401,"mean":0.213,"lo":0.032,"hi":0.385},
      {"pop":"thin","mh":-0.203,"mean":0.135,"lo":-0.011,"hi":0.277},
      {"pop":"thin","mh":0.003,"mean":0.105,"lo":0.011,"hi":0.204},
      {"pop":"thin","mh":0.186,"mean":0.041,"lo":-0.075,"hi":0.14},
      {"pop":"thin","mh":0.342,"mean":0.019,"lo":-0.084,"hi":0.118},
      {"pop":"hamr","mh":0.0,"mean":0.11,"lo":-0.161,"hi":0.355,"mhlo":-0.153,"mhhi":0.158}
    ],
    "eu_hist": [
      {"pop":"thin","lo":0.377,"hi":0.465,"n":0.12},{"pop":"thin","lo":0.289,"hi":0.377,"n":0.35},{"pop":"thin","lo":0.201,"hi":0.289,"n":0.652},{"pop":"thin","lo":0.113,"hi":0.201,"n":1.0},{"pop":"thin","lo":0.025,"hi":0.113,"n":0.77},{"pop":"thin","lo":-0.063,"hi":0.025,"n":0.327},{"pop":"thin","lo":-0.151,"hi":-0.063,"n":0.136},{"pop":"thin","lo":-0.239,"hi":-0.151,"n":0.025},{"pop":"thin","lo":-0.327,"hi":-0.239,"n":0.015},{"pop":"thin","lo":-0.415,"hi":-0.327,"n":0.008},{"pop":"thin","lo":-0.503,"hi":-0.415,"n":0.012},
      {"pop":"thick","lo":0.817,"hi":0.905,"n":0.03},{"pop":"thick","lo":0.729,"hi":0.817,"n":0.015},{"pop":"thick","lo":0.641,"hi":0.729,"n":0.03},{"pop":"thick","lo":0.553,"hi":0.641,"n":0.337},{"pop":"thick","lo":0.465,"hi":0.553,"n":0.56},{"pop":"thick","lo":0.377,"hi":0.465,"n":1.0},{"pop":"thick","lo":0.289,"hi":0.377,"n":0.42},{"pop":"thick","lo":0.201,"hi":0.289,"n":0.165},{"pop":"thick","lo":0.113,"hi":0.201,"n":0.2},{"pop":"thick","lo":0.025,"hi":0.113,"n":0.03}
    ],
    "eu_outline": [
      {"seg":1,"k":1,"n":0,"val":0.465},{"seg":1,"k":2,"n":0.5,"val":0.465},{"seg":1,"k":3,"n":0.5,"val":0.377},{"seg":1,"k":4,"n":0,"val":0.377},{"seg":1,"k":5,"n":0,"val":0.289},{"seg":1,"k":6,"n":0.5,"val":0.289},{"seg":1,"k":7,"n":0.5,"val":0.201},{"seg":1,"k":8,"n":1,"val":0.201},{"seg":1,"k":9,"n":1,"val":0.025},{"seg":1,"k":10,"n":0,"val":0.025},
      {"seg":2,"k":1,"n":0,"val":-0.239},{"seg":2,"k":2,"n":1,"val":-0.239},{"seg":2,"k":3,"n":1,"val":-0.327},{"seg":2,"k":4,"n":0,"val":-0.327},{"seg":2,"k":5,"n":0,"val":-0.239}
    ],
    "gd_hist": [
      {"pop":"thin","lo":0.285,"hi":0.375,"n":0.15},{"pop":"thin","lo":0.195,"hi":0.285,"n":0.3},{"pop":"thin","lo":0.105,"hi":0.195,"n":0.71},{"pop":"thin","lo":0.015,"hi":0.105,"n":1.0},{"pop":"thin","lo":-0.075,"hi":0.015,"n":0.603},{"pop":"thin","lo":-0.165,"hi":-0.075,"n":0.306},{"pop":"thin","lo":-0.255,"hi":-0.165,"n":0.09},{"pop":"thin","lo":-0.345,"hi":-0.255,"n":0.02},{"pop":"thin","lo":-0.435,"hi":-0.345,"n":0.015},
      {"pop":"thick","lo":0.825,"hi":0.915,"n":0.05},{"pop":"thick","lo":0.735,"hi":0.825,"n":0.23},{"pop":"thick","lo":0.555,"hi":0.645,"n":0.277},{"pop":"thick","lo":0.465,"hi":0.555,"n":0.456},{"pop":"thick","lo":0.375,"hi":0.465,"n":1.0},{"pop":"thick","lo":0.285,"hi":0.375,"n":0.776},{"pop":"thick","lo":0.195,"hi":0.285,"n":0.506},{"pop":"thick","lo":0.105,"hi":0.195,"n":0.456},{"pop":"thick","lo":0.015,"hi":0.105,"n":0.19},{"pop":"thick","lo":-0.075,"hi":0.015,"n":0.144},{"pop":"thick","lo":-0.255,"hi":-0.165,"n":0.047}
    ],
    "gd_outline": [
      {"seg":1,"k":1,"n":0,"val":0.465},{"seg":1,"k":2,"n":0.333,"val":0.465},{"seg":1,"k":3,"n":0.333,"val":0.285},{"seg":1,"k":4,"n":0.667,"val":0.285},{"seg":1,"k":5,"n":0.667,"val":0.195},{"seg":1,"k":6,"n":1,"val":0.195},{"seg":1,"k":7,"n":1,"val":0.105},{"seg":1,"k":8,"n":0.667,"val":0.105},{"seg":1,"k":9,"n":0.667,"val":0.015},{"seg":1,"k":10,"n":0.333,"val":0.015},{"seg":1,"k":11,"n":0.333,"val":-0.075},{"seg":1,"k":12,"n":0,"val":-0.075},{"seg":1,"k":13,"n":0,"val":-0.165},{"seg":1,"k":14,"n":0.333,"val":-0.165},{"seg":1,"k":15,"n":0.333,"val":-0.255},{"seg":1,"k":16,"n":0,"val":-0.255},{"seg":1,"k":17,"n":0,"val":-0.165}
    ],
    "dy_hist": [
      {"pop":"thin","lo":0.361,"hi":0.452,"n":0.1},{"pop":"thin","lo":0.27,"hi":0.361,"n":0.25},{"pop":"thin","lo":0.179,"hi":0.27,"n":0.68},{"pop":"thin","lo":0.088,"hi":0.179,"n":1.0},{"pop":"thin","lo":-0.003,"hi":0.088,"n":0.878},{"pop":"thin","lo":-0.094,"hi":-0.003,"n":0.48},{"pop":"thin","lo":-0.185,"hi":-0.094,"n":0.131},{"pop":"thin","lo":-0.276,"hi":-0.185,"n":0.03},{"pop":"thin","lo":-0.367,"hi":-0.276,"n":0.015},{"pop":"thin","lo":-0.458,"hi":-0.367,"n":0.03},{"pop":"thin","lo":-0.549,"hi":-0.458,"n":0.01},
      {"pop":"thick","lo":0.634,"hi":0.725,"n":0.228},{"pop":"thick","lo":0.543,"hi":0.634,"n":0.395},{"pop":"thick","lo":0.452,"hi":0.543,"n":1.0},{"pop":"thick","lo":0.361,"hi":0.452,"n":0.73},{"pop":"thick","lo":0.27,"hi":0.361,"n":0.395},{"pop":"thick","lo":0.179,"hi":0.27,"n":0.173}
    ],
    "dy_outline": [
      {"seg":1,"k":1,"n":0,"val":0.452},{"seg":1,"k":2,"n":0.25,"val":0.452},{"seg":1,"k":3,"n":0.25,"val":0.179},{"seg":1,"k":4,"n":1,"val":0.179},{"seg":1,"k":5,"n":1,"val":0.088},{"seg":1,"k":6,"n":0.25,"val":0.088},{"seg":1,"k":7,"n":0.25,"val":-0.003},{"seg":1,"k":8,"n":0,"val":-0.003},
      {"seg":2,"k":1,"n":0,"val":-0.185},{"seg":2,"k":2,"n":0.25,"val":-0.185},{"seg":2,"k":3,"n":0.25,"val":-0.276},{"seg":2,"k":4,"n":0,"val":-0.276},{"seg":2,"k":5,"n":0,"val":-0.185},
      {"seg":3,"k":1,"n":0,"val":-0.367},{"seg":3,"k":2,"n":0.25,"val":-0.367},{"seg":3,"k":3,"n":0.25,"val":-0.458},{"seg":3,"k":4,"n":0,"val":-0.458},{"seg":3,"k":5,"n":0,"val":-0.367}
    ]
  },
  "concat": [
    {
      "width": 216, "height": 124,
      "resolve": {"axis": {"x": "independent", "y": "independent"}},
      "layer": [
        {"mark": {"type": "point", "opacity": 0}, "encoding": {"x": {"datum": 0, "type": "quantitative", "scale": {"domain": [-1.33, 0.5], "nice": false, "zero": false}, "axis": {"orient": "bottom", "values": [-1, -0.5, 0, 0.5], "tickSize": -5, "title": null}}, "y": {"datum": 0, "type": "quantitative", "scale": {"domain": [-0.6, 1], "nice": false, "zero": false}, "axis": {"orient": "left", "values": [-0.5, 0, 0.5, 1], "tickSize": -5, "title": null}}}},
        {"mark": {"type": "point", "opacity": 0}, "encoding": {"x": {"datum": 0, "type": "quantitative", "axis": {"orient": "bottom", "values": [-1.3, -1.2, -1.1, -0.9, -0.8, -0.7, -0.6, -0.4, -0.3, -0.2, -0.1, 0.1, 0.2, 0.3, 0.4], "tickSize": -2.5, "title": null}}, "y": {"datum": 0, "type": "quantitative", "axis": {"orient": "left", "values": [-0.4, -0.3, -0.2, -0.1, 0.1, 0.2, 0.3, 0.4, 0.6, 0.7, 0.8, 0.9], "tickSize": -2.5, "title": null}}}},
        {"mark": {"type": "point", "opacity": 0}, "encoding": {"x": {"datum": 0, "type": "quantitative", "axis": {"orient": "top", "values": [-1, -0.5, 0, 0.5], "tickSize": -5, "title": null}}, "y": {"datum": 0, "type": "quantitative", "axis": {"orient": "right", "values": [-0.5, 0, 0.5, 1], "tickSize": -5, "title": null}}}},
        {"mark": {"type": "point", "opacity": 0}, "encoding": {"x": {"datum": 0, "type": "quantitative", "axis": {"orient": "top", "values": [-1.3, -1.2, -1.1, -0.9, -0.8, -0.7, -0.6, -0.4, -0.3, -0.2, -0.1, 0.1, 0.2, 0.3, 0.4], "tickSize": -2.5, "title": null}}, "y": {"datum": 0, "type": "quantitative", "axis": {"orient": "right", "values": [-0.4, -0.3, -0.2, -0.1, 0.1, 0.2, 0.3, 0.4, 0.6, 0.7, 0.8, 0.9], "tickSize": -2.5, "title": null}}}},
        {"mark": {"type": "point", "opacity": 0}, "encoding": {"y": {"datum": 0, "type": "quantitative", "axis": {"orient": "left", "values": [-0.5, 0, 0.5, 1], "ticks": false, "labels": true, "labelFlush": true, "labelPadding": 3, "labelExpr": "replace(format(datum.value, '.1f'), '\u2212', '-')", "title": "[Eu/Ba]", "titlePadding": 14}}}},
        {"mark": {"type": "rule", "color": "#555555", "strokeDash": [1, 2]}, "encoding": {"y": {"datum": 0, "type": "quantitative", "axis": null}}},
        {"mark": {"type": "rule", "color": "#555555", "strokeDash": [1, 2]}, "encoding": {"x": {"datum": 0, "type": "quantitative", "axis": null}}},
        {"mark": {"type": "rule", "color": "#333333", "strokeDash": [2, 2]}, "encoding": {"y": {"datum": 0.9, "type": "quantitative", "axis": null}}},
        {"mark": {"type": "rule", "color": "#444444", "strokeDash": [1, 1]}, "encoding": {"y": {"datum": 0.8, "type": "quantitative", "axis": null}}},
        {"mark": {"type": "rule", "color": "#333333", "strokeDash": [2, 2]}, "encoding": {"y": {"datum": 0.7, "type": "quantitative", "axis": null}}},
        {"data": {"name": "eu_thin"}, "mark": {"type": "circle", "size": 16, "opacity": 1, "color": "#0000ff"}, "encoding": {"x": {"field": "mh", "type": "quantitative", "axis": null}, "y": {"field": "val", "type": "quantitative", "axis": null}}},
        {"data": {"name": "eu_thick"}, "mark": {"type": "circle", "size": 16, "opacity": 1, "color": "#ff0000"}, "encoding": {"x": {"field": "mh", "type": "quantitative", "axis": null}, "y": {"field": "val", "type": "quantitative", "axis": null}}},
        {"data": {"name": "eu_hamr"}, "mark": {"type": "circle", "size": 16, "opacity": 1, "color": "#22dd22"}, "encoding": {"x": {"field": "mh", "type": "quantitative", "axis": null}, "y": {"field": "val", "type": "quantitative", "axis": null}}},
        {"mark": {"type": "text", "align": "left", "baseline": "middle", "fontSize": 10, "color": "#000000", "text": "pure r-process"}, "encoding": {"x": {"datum": -1.23, "type": "quantitative", "axis": null}, "y": {"datum": 0.845, "type": "quantitative", "axis": null}}},
        {"mark": {"type": "text", "align": "left", "baseline": "middle", "fontSize": 10, "color": "#2222ff", "text": "N\u00a0\u00a0\u00a0\u00a0\u00a0=\u00a0\u00a0755"}, "encoding": {"x": {"datum": -1.24, "type": "quantitative", "axis": null}, "y": {"datum": -0.175, "type": "quantitative", "axis": null}}},
        {"mark": {"type": "text", "align": "left", "baseline": "middle", "fontSize": 6, "dx": 7.5, "dy": 3, "color": "#2222ff", "text": "thin"}, "encoding": {"x": {"datum": -1.24, "type": "quantitative", "axis": null}, "y": {"datum": -0.175, "type": "quantitative", "axis": null}}},
        {"mark": {"type": "text", "align": "left", "baseline": "middle", "fontSize": 10, "color": "#ff2222", "text": "N\u00a0\u00a0\u00a0\u00a0\u00a0=\u00a0\u00a099"}, "encoding": {"x": {"datum": -1.24, "type": "quantitative", "axis": null}, "y": {"datum": -0.32, "type": "quantitative", "axis": null}}},
        {"mark": {"type": "text", "align": "left", "baseline": "middle", "fontSize": 6, "dx": 7.5, "dy": 3, "color": "#ff2222", "text": "thick"}, "encoding": {"x": {"datum": -1.24, "type": "quantitative", "axis": null}, "y": {"datum": -0.32, "type": "quantitative", "axis": null}}},
        {"mark": {"type": "text", "align": "left", "baseline": "middle", "fontSize": 10, "color": "#22dd22", "text": "N\u00a0\u00a0\u00a0\u00a0\u00a0=\u00a0\u00a08"}, "encoding": {"x": {"datum": -1.24, "type": "quantitative", "axis": null}, "y": {"datum": -0.465, "type": "quantitative", "axis": null}}},
        {"mark": {"type": "text", "align": "left", "baseline": "middle", "fontSize": 6, "dx": 7.5, "dy": 3, "color": "#22dd22", "text": "hαmr"}, "encoding": {"x": {"datum": -1.24, "type": "quantitative", "axis": null}, "y": {"datum": -0.465, "type": "quantitative", "axis": null}}}
      ]
    },
    {
      "width": 216, "height": 124,
      "resolve": {"axis": {"x": "independent", "y": "independent"}},
      "data": {"name": "eu_means"},
      "layer": [
        {"mark": {"type": "point", "opacity": 0}, "encoding": {"x": {"datum": 0, "type": "quantitative", "scale": {"domain": [-1.33, 0.5], "nice": false, "zero": false}, "axis": {"orient": "bottom", "values": [-1, -0.5, 0, 0.5], "tickSize": -5, "title": null}}, "y": {"datum": 0, "type": "quantitative", "scale": {"domain": [-0.6, 1], "nice": false, "zero": false}, "axis": {"orient": "left", "values": [-0.5, 0, 0.5, 1], "tickSize": -5, "title": null}}}},
        {"mark": {"type": "point", "opacity": 0}, "encoding": {"x": {"datum": 0, "type": "quantitative", "axis": {"orient": "bottom", "values": [-1.3, -1.2, -1.1, -0.9, -0.8, -0.7, -0.6, -0.4, -0.3, -0.2, -0.1, 0.1, 0.2, 0.3, 0.4], "tickSize": -2.5, "title": null}}, "y": {"datum": 0, "type": "quantitative", "axis": {"orient": "left", "values": [-0.4, -0.3, -0.2, -0.1, 0.1, 0.2, 0.3, 0.4, 0.6, 0.7, 0.8, 0.9], "tickSize": -2.5, "title": null}}}},
        {"mark": {"type": "point", "opacity": 0}, "encoding": {"x": {"datum": 0, "type": "quantitative", "axis": {"orient": "top", "values": [-1, -0.5, 0, 0.5], "tickSize": -5, "title": null}}, "y": {"datum": 0, "type": "quantitative", "axis": {"orient": "right", "values": [-0.5, 0, 0.5, 1], "tickSize": -5, "title": null}}}},
        {"mark": {"type": "point", "opacity": 0}, "encoding": {"x": {"datum": 0, "type": "quantitative", "axis": {"orient": "top", "values": [-1.3, -1.2, -1.1, -0.9, -0.8, -0.7, -0.6, -0.4, -0.3, -0.2, -0.1, 0.1, 0.2, 0.3, 0.4], "tickSize": -2.5, "title": null}}, "y": {"datum": 0, "type": "quantitative", "axis": {"orient": "right", "values": [-0.4, -0.3, -0.2, -0.1, 0.1, 0.2, 0.3, 0.4, 0.6, 0.7, 0.8, 0.9], "tickSize": -2.5, "title": null}}}},
        {"mark": {"type": "rule", "color": "#555555", "strokeDash": [1, 2]}, "encoding": {"y": {"datum": 0, "type": "quantitative", "axis": null}}},
        {"mark": {"type": "rule", "color": "#555555", "strokeDash": [1, 2]}, "encoding": {"x": {"datum": 0, "type": "quantitative", "axis": null}}},
        {"transform": [{"filter": "datum.pop === 'thick'"}], "mark": {"type": "line", "color": "#ff0000", "strokeWidth": 2}, "encoding": {"x": {"field": "mh", "type": "quantitative", "axis": null}, "y": {"field": "mean", "type": "quantitative", "axis": null}}},
        {"transform": [{"filter": "datum.pop === 'thin'"}], "mark": {"type": "line", "color": "#0000ff", "strokeWidth": 2}, "encoding": {"x": {"field": "mh", "type": "quantitative", "axis": null}, "y": {"field": "mean", "type": "quantitative", "axis": null}}},
        {"mark": {"type": "rule", "strokeWidth": 2}, "encoding": {"x": {"field": "mh", "type": "quantitative", "axis": null}, "y": {"field": "lo", "type": "quantitative", "axis": null}, "y2": {"field": "hi"}, "color": {"field": "pop", "type": "nominal", "scale": {"domain": ["thin", "thick", "hamr"], "range": ["#0000ff", "#ff0000", "#22dd22"]}, "legend": null}}},
        {"transform": [{"filter": "datum.pop === 'hamr'"}], "mark": {"type": "rule", "strokeWidth": 2, "color": "#22dd22"}, "encoding": {"x": {"field": "mhlo", "type": "quantitative", "axis": null}, "x2": {"field": "mhhi"}, "y": {"field": "mean", "type": "quantitative", "axis": null}}}
      ]
    },
    {
      "width": 216, "height": 124,
      "resolve": {"axis": {"x": "independent", "y": "independent"}},
      "layer": [
        {"mark": {"type": "point", "opacity": 0}, "encoding": {"x": {"datum": 0, "type": "quantitative", "scale": {"domain": [0, 1.05], "nice": false, "zero": false}, "axis": {"orient": "bottom", "values": [0.2, 0.4, 0.6, 0.8, 1], "tickSize": -5, "title": null}}, "y": {"datum": 0, "type": "quantitative", "scale": {"domain": [-0.6, 1], "nice": false, "zero": false}, "axis": {"orient": "left", "values": [-0.5, 0, 0.5, 1], "tickSize": -5, "title": null}}}},
        {"mark": {"type": "point", "opacity": 0}, "encoding": {"x": {"datum": 0, "type": "quantitative", "axis": {"orient": "bottom", "values": [0.1, 0.3, 0.5, 0.7, 0.9], "tickSize": -3, "title": null}}, "y": {"datum": 0, "type": "quantitative", "axis": {"orient": "left", "values": [-0.4, -0.3, -0.2, -0.1, 0.1, 0.2, 0.3, 0.4, 0.6, 0.7, 0.8, 0.9], "tickSize": -2.5, "title": null}}}},
        {"mark": {"type": "point", "opacity": 0}, "encoding": {"x": {"datum": 0, "type": "quantitative", "axis": {"orient": "top", "values": [0.2, 0.4, 0.6, 0.8, 1], "tickSize": -5, "title": null}}, "y": {"datum": 0, "type": "quantitative", "axis": {"orient": "right", "values": [-0.5, 0, 0.5, 1], "tickSize": -5, "title": null}}}},
        {"mark": {"type": "point", "opacity": 0}, "encoding": {"x": {"datum": 0, "type": "quantitative", "axis": {"orient": "top", "values": [0.1, 0.3, 0.5, 0.7, 0.9], "tickSize": -3, "title": null}}, "y": {"datum": 0, "type": "quantitative", "axis": {"orient": "right", "values": [-0.4, -0.3, -0.2, -0.1, 0.1, 0.2, 0.3, 0.4, 0.6, 0.7, 0.8, 0.9], "tickSize": -2.5, "title": null}}}},
        {"data": {"name": "eu_hist"}, "transform": [{"filter": "datum.pop === 'thin'"}], "mark": {"type": "rect", "color": "#0000ff"}, "encoding": {"x": {"field": "n", "type": "quantitative", "axis": null}, "x2": {"datum": 0}, "y": {"field": "lo", "type": "quantitative", "axis": null}, "y2": {"field": "hi"}}},
        {"data": {"name": "eu_hist"}, "transform": [{"filter": "datum.pop === 'thick'"}], "mark": {"type": "rect", "color": "#ff0000"}, "encoding": {"x": {"field": "n", "type": "quantitative", "axis": null}, "x2": {"datum": 0}, "y": {"field": "lo", "type": "quantitative", "axis": null}, "y2": {"field": "hi"}}},
        {"data": {"name": "eu_outline"}, "mark": {"type": "line", "color": "#22dd22", "strokeWidth": 2}, "encoding": {"x": {"field": "n", "type": "quantitative", "axis": null}, "y": {"field": "val", "type": "quantitative", "axis": null}, "detail": {"field": "seg", "type": "nominal"}, "order": {"field": "k", "type": "quantitative"}}}
      ]
    },
    {
      "width": 216, "height": 124,
      "resolve": {"axis": {"x": "independent", "y": "independent"}},
      "layer": [
        {"mark": {"type": "point", "opacity": 0}, "encoding": {"x": {"datum": 0, "type": "quantitative", "scale": {"domain": [-1.33, 0.5], "nice": false, "zero": false}, "axis": {"orient": "bottom", "values": [-1, -0.5, 0, 0.5], "tickSize": -5, "title": null}}, "y": {"datum": 0, "type": "quantitative", "scale": {"domain": [-0.6, 1], "nice": false, "zero": false}, "axis": {"orient": "left", "values": [-0.5, 0, 0.5, 1], "tickSize": -5, "title": null}}}},
        {"mark": {"type": "point", "opacity": 0}, "encoding": {"x": {"datum": 0, "type": "quantitative", "axis": {"orient": "bottom", "values": [-1.3, -1.2, -1.1, -0.9, -0.8, -0.7, -0.6, -0.4, -0.3, -0.2, -0.1, 0.1, 0.2, 0.3, 0.4], "tickSize": -2.5, "title": null}}, "y": {"datum": 0, "type": "quantitative", "axis": {"orient": "left", "values": [-0.4, -0.3, -0.2, -0.1, 0.1, 0.2, 0.3, 0.4, 0.6, 0.7, 0.8, 0.9], "tickSize": -2.5, "title": null}}}},
        {"mark": {"type": "point", "opacity": 0}, "encoding": {"x": {"datum": 0, "type": "quantitative", "axis": {"orient": "top", "values": [-1, -0.5, 0, 0.5], "tickSize": -5, "title": null}}, "y": {"datum": 0, "type": "quantitative", "axis": {"orient": "right", "values": [-0.5, 0, 0.5, 1], "tickSize": -5, "title": null}}}},
        {"mark": {"type": "point", "opacity": 0}, "encoding": {"x": {"datum": 0, "type": "quantitative", "axis": {"orient": "top", "values": [-1.3, -1.2, -1.1, -0.9, -0.8, -0.7, -0.6, -0.4, -0.3, -0.2, -0.1, 0.1, 0.2, 0.3, 0.4], "tickSize": -2.5, "title": null}}, "y": {"datum": 0, "type": "quantitative", "axis": {"orient": "right", "values": [-0.4, -0.3, -0.2, -0.1, 0.1, 0.2, 0.3, 0.4, 0.6, 0.7, 0.8, 0.9], "tickSize": -2.5, "title": null}}}},
        {"mark": {"type": "point", "opacity": 0}, "encoding": {"y": {"datum": 0, "type": "quantitative", "axis": {"orient": "left", "values": [-0.5, 0, 0.5, 1], "ticks": false, "labels": true, "labelFlush": true, "labelPadding": 3, "labelExpr": "replace(format(datum.value, '.1f'), '\u2212', '-')", "title": "[Gd/Ba]", "titlePadding": 14}}}},
        {"mark": {"type": "rule", "color": "#555555", "strokeDash": [1, 2]}, "encoding": {"y": {"datum": 0, "type": "quantitative", "axis": null}}},
        {"mark": {"type": "rule", "color": "#555555", "strokeDash": [1, 2]}, "encoding": {"x": {"datum": 0, "type": "quantitative", "axis": null}}},
        {"mark": {"type": "rule", "color": "#333333", "strokeDash": [2, 2]}, "encoding": {"y": {"datum": 0.9, "type": "quantitative", "axis": null}}},
        {"mark": {"type": "rule", "color": "#444444", "strokeDash": [1, 1]}, "encoding": {"y": {"datum": 0.8, "type": "quantitative", "axis": null}}},
        {"mark": {"type": "rule", "color": "#333333", "strokeDash": [2, 2]}, "encoding": {"y": {"datum": 0.7, "type": "quantitative", "axis": null}}},
        {"data": {"name": "gd_thin"}, "mark": {"type": "circle", "size": 16, "opacity": 1, "color": "#0000ff"}, "encoding": {"x": {"field": "mh", "type": "quantitative", "axis": null}, "y": {"field": "val", "type": "quantitative", "axis": null}}},
        {"data": {"name": "gd_thick"}, "mark": {"type": "circle", "size": 16, "opacity": 1, "color": "#ff0000"}, "encoding": {"x": {"field": "mh", "type": "quantitative", "axis": null}, "y": {"field": "val", "type": "quantitative", "axis": null}}},
        {"data": {"name": "gd_hamr"}, "mark": {"type": "circle", "size": 16, "opacity": 1, "color": "#22dd22"}, "encoding": {"x": {"field": "mh", "type": "quantitative", "axis": null}, "y": {"field": "val", "type": "quantitative", "axis": null}}},
        {"mark": {"type": "text", "align": "left", "baseline": "middle", "fontSize": 10, "color": "#2222ff", "text": "N\u00a0\u00a0\u00a0\u00a0\u00a0=\u00a0\u00a0643"}, "encoding": {"x": {"datum": -1.24, "type": "quantitative", "axis": null}, "y": {"datum": -0.15, "type": "quantitative", "axis": null}}},
        {"mark": {"type": "text", "align": "left", "baseline": "middle", "fontSize": 6, "dx": 7.5, "dy": 3, "color": "#2222ff", "text": "thin"}, "encoding": {"x": {"datum": -1.24, "type": "quantitative", "axis": null}, "y": {"datum": -0.15, "type": "quantitative", "axis": null}}},
        {"mark": {"type": "text", "align": "left", "baseline": "middle", "fontSize": 10, "color": "#ff2222", "text": "N\u00a0\u00a0\u00a0\u00a0\u00a0=\u00a0\u00a090"}, "encoding": {"x": {"datum": -1.24, "type": "quantitative", "axis": null}, "y": {"datum": -0.32, "type": "quantitative", "axis": null}}},
        {"mark": {"type": "text", "align": "left", "baseline": "middle", "fontSize": 6, "dx": 7.5, "dy": 3, "color": "#ff2222", "text": "thick"}, "encoding": {"x": {"datum": -1.24, "type": "quantitative", "axis": null}, "y": {"datum": -0.32, "type": "quantitative", "axis": null}}},
        {"mark": {"type": "text", "align": "left", "baseline": "middle", "fontSize": 10, "color": "#22dd22", "text": "N\u00a0\u00a0\u00a0\u00a0\u00a0=\u00a0\u00a011"}, "encoding": {"x": {"datum": -1.24, "type": "quantitative", "axis": null}, "y": {"datum": -0.49, "type": "quantitative", "axis": null}}},
        {"mark": {"type": "text", "align": "left", "baseline": "middle", "fontSize": 6, "dx": 7.5, "dy": 3, "color": "#22dd22", "text": "hαmr"}, "encoding": {"x": {"datum": -1.24, "type": "quantitative", "axis": null}, "y": {"datum": -0.49, "type": "quantitative", "axis": null}}}
      ]
    },
    {
      "width": 216, "height": 124,
      "resolve": {"axis": {"x": "independent", "y": "independent"}},
      "data": {"name": "gd_means"},
      "layer": [
        {"mark": {"type": "point", "opacity": 0}, "encoding": {"x": {"datum": 0, "type": "quantitative", "scale": {"domain": [-1.33, 0.5], "nice": false, "zero": false}, "axis": {"orient": "bottom", "values": [-1, -0.5, 0, 0.5], "tickSize": -5, "title": null}}, "y": {"datum": 0, "type": "quantitative", "scale": {"domain": [-0.6, 1], "nice": false, "zero": false}, "axis": {"orient": "left", "values": [-0.5, 0, 0.5, 1], "tickSize": -5, "title": null}}}},
        {"mark": {"type": "point", "opacity": 0}, "encoding": {"x": {"datum": 0, "type": "quantitative", "axis": {"orient": "bottom", "values": [-1.3, -1.2, -1.1, -0.9, -0.8, -0.7, -0.6, -0.4, -0.3, -0.2, -0.1, 0.1, 0.2, 0.3, 0.4], "tickSize": -2.5, "title": null}}, "y": {"datum": 0, "type": "quantitative", "axis": {"orient": "left", "values": [-0.4, -0.3, -0.2, -0.1, 0.1, 0.2, 0.3, 0.4, 0.6, 0.7, 0.8, 0.9], "tickSize": -2.5, "title": null}}}},
        {"mark": {"type": "point", "opacity": 0}, "encoding": {"x": {"datum": 0, "type": "quantitative", "axis": {"orient": "top", "values": [-1, -0.5, 0, 0.5], "tickSize": -5, "title": null}}, "y": {"datum": 0, "type": "quantitative", "axis": {"orient": "right", "values": [-0.5, 0, 0.5, 1], "tickSize": -5, "title": null}}}},
        {"mark": {"type": "point", "opacity": 0}, "encoding": {"x": {"datum": 0, "type": "quantitative", "axis": {"orient": "top", "values": [-1.3, -1.2, -1.1, -0.9, -0.8, -0.7, -0.6, -0.4, -0.3, -0.2, -0.1, 0.1, 0.2, 0.3, 0.4], "tickSize": -2.5, "title": null}}, "y": {"datum": 0, "type": "quantitative", "axis": {"orient": "right", "values": [-0.4, -0.3, -0.2, -0.1, 0.1, 0.2, 0.3, 0.4, 0.6, 0.7, 0.8, 0.9], "tickSize": -2.5, "title": null}}}},
        {"mark": {"type": "rule", "color": "#555555", "strokeDash": [1, 2]}, "encoding": {"y": {"datum": 0, "type": "quantitative", "axis": null}}},
        {"mark": {"type": "rule", "color": "#555555", "strokeDash": [1, 2]}, "encoding": {"x": {"datum": 0, "type": "quantitative", "axis": null}}},
        {"transform": [{"filter": "datum.pop === 'thick'"}], "mark": {"type": "line", "color": "#ff0000", "strokeWidth": 2}, "encoding": {"x": {"field": "mh", "type": "quantitative", "axis": null}, "y": {"field": "mean", "type": "quantitative", "axis": null}}},
        {"transform": [{"filter": "datum.pop === 'thin'"}], "mark": {"type": "line", "color": "#0000ff", "strokeWidth": 2}, "encoding": {"x": {"field": "mh", "type": "quantitative", "axis": null}, "y": {"field": "mean", "type": "quantitative", "axis": null}}},
        {"mark": {"type": "rule", "strokeWidth": 2}, "encoding": {"x": {"field": "mh", "type": "quantitative", "axis": null}, "y": {"field": "lo", "type": "quantitative", "axis": null}, "y2": {"field": "hi"}, "color": {"field": "pop", "type": "nominal", "scale": {"domain": ["thin", "thick", "hamr"], "range": ["#0000ff", "#ff0000", "#22dd22"]}, "legend": null}}},
        {"transform": [{"filter": "datum.pop === 'hamr'"}], "mark": {"type": "rule", "strokeWidth": 2, "color": "#22dd22"}, "encoding": {"x": {"field": "mhlo", "type": "quantitative", "axis": null}, "x2": {"field": "mhhi"}, "y": {"field": "mean", "type": "quantitative", "axis": null}}}
      ]
    },
    {
      "width": 216, "height": 124,
      "resolve": {"axis": {"x": "independent", "y": "independent"}},
      "layer": [
        {"mark": {"type": "point", "opacity": 0}, "encoding": {"x": {"datum": 0, "type": "quantitative", "scale": {"domain": [0, 1.05], "nice": false, "zero": false}, "axis": {"orient": "bottom", "values": [0.2, 0.4, 0.6, 0.8, 1], "tickSize": -5, "title": null}}, "y": {"datum": 0, "type": "quantitative", "scale": {"domain": [-0.6, 1], "nice": false, "zero": false}, "axis": {"orient": "left", "values": [-0.5, 0, 0.5, 1], "tickSize": -5, "title": null}}}},
        {"mark": {"type": "point", "opacity": 0}, "encoding": {"x": {"datum": 0, "type": "quantitative", "axis": {"orient": "bottom", "values": [0.1, 0.3, 0.5, 0.7, 0.9], "tickSize": -3, "title": null}}, "y": {"datum": 0, "type": "quantitative", "axis": {"orient": "left", "values": [-0.4, -0.3, -0.2, -0.1, 0.1, 0.2, 0.3, 0.4, 0.6, 0.7, 0.8, 0.9], "tickSize": -2.5, "title": null}}}},
        {"mark": {"type": "point", "opacity": 0}, "encoding": {"x": {"datum": 0, "type": "quantitative", "axis": {"orient": "top", "values": [0.2, 0.4, 0.6, 0.8, 1], "tickSize": -5, "title": null}}, "y": {"datum": 0, "type": "quantitative", "axis": {"orient": "right", "values": [-0.5, 0, 0.5, 1], "tickSize": -5, "title": null}}}},
        {"mark": {"type": "point", "opacity": 0}, "encoding": {"x": {"datum": 0, "type": "quantitative", "axis": {"orient": "top", "values": [0.1, 0.3, 0.5, 0.7, 0.9], "tickSize": -3, "title": null}}, "y": {"datum": 0, "type": "quantitative", "axis": {"orient": "right", "values": [-0.4, -0.3, -0.2, -0.1, 0.1, 0.2, 0.3, 0.4, 0.6, 0.7, 0.8, 0.9], "tickSize": -2.5, "title": null}}}},
        {"data": {"name": "gd_hist"}, "transform": [{"filter": "datum.pop === 'thin'"}], "mark": {"type": "rect", "color": "#0000ff"}, "encoding": {"x": {"field": "n", "type": "quantitative", "axis": null}, "x2": {"datum": 0}, "y": {"field": "lo", "type": "quantitative", "axis": null}, "y2": {"field": "hi"}}},
        {"data": {"name": "gd_hist"}, "transform": [{"filter": "datum.pop === 'thick'"}], "mark": {"type": "rect", "color": "#ff0000"}, "encoding": {"x": {"field": "n", "type": "quantitative", "axis": null}, "x2": {"datum": 0}, "y": {"field": "lo", "type": "quantitative", "axis": null}, "y2": {"field": "hi"}}},
        {"data": {"name": "gd_outline"}, "mark": {"type": "line", "color": "#22dd22", "strokeWidth": 2}, "encoding": {"x": {"field": "n", "type": "quantitative", "axis": null}, "y": {"field": "val", "type": "quantitative", "axis": null}, "detail": {"field": "seg", "type": "nominal"}, "order": {"field": "k", "type": "quantitative"}}}
      ]
    },
    {
      "width": 216, "height": 124,
      "resolve": {"axis": {"x": "independent", "y": "independent"}},
      "layer": [
        {"mark": {"type": "point", "opacity": 0}, "encoding": {"x": {"datum": 0, "type": "quantitative", "scale": {"domain": [-1.33, 0.5], "nice": false, "zero": false}, "axis": {"orient": "bottom", "values": [-1, -0.5, 0, 0.5], "tickSize": -5, "title": null}}, "y": {"datum": 0, "type": "quantitative", "scale": {"domain": [-0.6, 1], "nice": false, "zero": false}, "axis": {"orient": "left", "values": [-0.5, 0, 0.5, 1], "tickSize": -5, "title": null}}}},
        {"mark": {"type": "point", "opacity": 0}, "encoding": {"x": {"datum": 0, "type": "quantitative", "axis": {"orient": "bottom", "values": [-1.3, -1.2, -1.1, -0.9, -0.8, -0.7, -0.6, -0.4, -0.3, -0.2, -0.1, 0.1, 0.2, 0.3, 0.4], "tickSize": -2.5, "title": null}}, "y": {"datum": 0, "type": "quantitative", "axis": {"orient": "left", "values": [-0.4, -0.3, -0.2, -0.1, 0.1, 0.2, 0.3, 0.4, 0.6, 0.7, 0.8, 0.9], "tickSize": -2.5, "title": null}}}},
        {"mark": {"type": "point", "opacity": 0}, "encoding": {"x": {"datum": 0, "type": "quantitative", "axis": {"orient": "top", "values": [-1, -0.5, 0, 0.5], "tickSize": -5, "title": null}}, "y": {"datum": 0, "type": "quantitative", "axis": {"orient": "right", "values": [-0.5, 0, 0.5, 1], "tickSize": -5, "title": null}}}},
        {"mark": {"type": "point", "opacity": 0}, "encoding": {"x": {"datum": 0, "type": "quantitative", "axis": {"orient": "top", "values": [-1.3, -1.2, -1.1, -0.9, -0.8, -0.7, -0.6, -0.4, -0.3, -0.2, -0.1, 0.1, 0.2, 0.3, 0.4], "tickSize": -2.5, "title": null}}, "y": {"datum": 0, "type": "quantitative", "axis": {"orient": "right", "values": [-0.4, -0.3, -0.2, -0.1, 0.1, 0.2, 0.3, 0.4, 0.6, 0.7, 0.8, 0.9], "tickSize": -2.5, "title": null}}}},
        {"mark": {"type": "point", "opacity": 0}, "encoding": {"x": {"datum": 0, "type": "quantitative", "axis": {"orient": "bottom", "values": [-1, -0.5, 0, 0.5], "ticks": false, "labels": true, "labelFontSize": 10, "labelPadding": 6, "labelExpr": "replace(format(datum.value, '.1f'), '\u2212', '-')", "title": "[M/H]", "titlePadding": 3}}, "y": {"datum": 0, "type": "quantitative", "axis": {"orient": "left", "values": [-0.5, 0, 0.5, 1], "ticks": false, "labels": true, "labelFlush": true, "labelPadding": 3, "labelExpr": "replace(format(datum.value, '.1f'), '\u2212', '-')", "title": "[Dy/Ba]", "titlePadding": 14}}}},
        {"mark": {"type": "rule", "color": "#555555", "strokeDash": [1, 2]}, "encoding": {"y": {"datum": 0, "type": "quantitative", "axis": null}}},
        {"mark": {"type": "rule", "color": "#555555", "strokeDash": [1, 2]}, "encoding": {"x": {"datum": 0, "type": "quantitative", "axis": null}}},
        {"mark": {"type": "rule", "color": "#333333", "strokeDash": [2, 2]}, "encoding": {"y": {"datum": 0.9, "type": "quantitative", "axis": null}}},
        {"mark": {"type": "rule", "color": "#444444", "strokeDash": [1, 1]}, "encoding": {"y": {"datum": 0.8, "type": "quantitative", "axis": null}}},
        {"mark": {"type": "rule", "color": "#333333", "strokeDash": [2, 2]}, "encoding": {"y": {"datum": 0.7, "type": "quantitative", "axis": null}}},
        {"data": {"name": "dy_thin"}, "mark": {"type": "circle", "size": 16, "opacity": 1, "color": "#0000ff"}, "encoding": {"x": {"field": "mh", "type": "quantitative", "axis": null}, "y": {"field": "val", "type": "quantitative", "axis": null}}},
        {"data": {"name": "dy_thick"}, "mark": {"type": "circle", "size": 16, "opacity": 1, "color": "#ff0000"}, "encoding": {"x": {"field": "mh", "type": "quantitative", "axis": null}, "y": {"field": "val", "type": "quantitative", "axis": null}}},
        {"data": {"name": "dy_hamr"}, "mark": {"type": "circle", "size": 16, "opacity": 1, "color": "#22dd22"}, "encoding": {"x": {"field": "mh", "type": "quantitative", "axis": null}, "y": {"field": "val", "type": "quantitative", "axis": null}}},
        {"mark": {"type": "text", "align": "left", "baseline": "middle", "fontSize": 10, "color": "#2222ff", "text": "N\u00a0\u00a0\u00a0\u00a0\u00a0=\u00a0\u00a0591"}, "encoding": {"x": {"datum": -1.24, "type": "quantitative", "axis": null}, "y": {"datum": -0.175, "type": "quantitative", "axis": null}}},
        {"mark": {"type": "text", "align": "left", "baseline": "middle", "fontSize": 6, "dx": 7.5, "dy": 3, "color": "#2222ff", "text": "thin"}, "encoding": {"x": {"datum": -1.24, "type": "quantitative", "axis": null}, "y": {"datum": -0.175, "type": "quantitative", "axis": null}}},
        {"mark": {"type": "text", "align": "left", "baseline": "middle", "fontSize": 10, "color": "#ff2222", "text": "N\u00a0\u00a0\u00a0\u00a0\u00a0=\u00a0\u00a052"}, "encoding": {"x": {"datum": -1.24, "type": "quantitative", "axis": null}, "y": {"datum": -0.335, "type": "quantitative", "axis": null}}},
        {"mark": {"type": "text", "align": "left", "baseline": "middle", "fontSize": 6, "dx": 7.5, "dy": 3, "color": "#ff2222", "text": "thick"}, "encoding": {"x": {"datum": -1.24, "type": "quantitative", "axis": null}, "y": {"datum": -0.335, "type": "quantitative", "axis": null}}},
        {"mark": {"type": "text", "align": "left", "baseline": "middle", "fontSize": 10, "color": "#22dd22", "text": "N\u00a0\u00a0\u00a0\u00a0\u00a0=\u00a0\u00a010"}, "encoding": {"x": {"datum": -1.24, "type": "quantitative", "axis": null}, "y": {"datum": -0.475, "type": "quantitative", "axis": null}}},
        {"mark": {"type": "text", "align": "left", "baseline": "middle", "fontSize": 6, "dx": 7.5, "dy": 3, "color": "#22dd22", "text": "hαmr"}, "encoding": {"x": {"datum": -1.24, "type": "quantitative", "axis": null}, "y": {"datum": -0.475, "type": "quantitative", "axis": null}}}
      ]
    },
    {
      "width": 216, "height": 124,
      "resolve": {"axis": {"x": "independent", "y": "independent"}},
      "data": {"name": "dy_means"},
      "layer": [
        {"mark": {"type": "point", "opacity": 0}, "encoding": {"x": {"datum": 0, "type": "quantitative", "scale": {"domain": [-1.33, 0.5], "nice": false, "zero": false}, "axis": {"orient": "bottom", "values": [-1, -0.5, 0, 0.5], "tickSize": -5, "title": null}}, "y": {"datum": 0, "type": "quantitative", "scale": {"domain": [-0.6, 1], "nice": false, "zero": false}, "axis": {"orient": "left", "values": [-0.5, 0, 0.5, 1], "tickSize": -5, "title": null}}}},
        {"mark": {"type": "point", "opacity": 0}, "encoding": {"x": {"datum": 0, "type": "quantitative", "axis": {"orient": "bottom", "values": [-1.3, -1.2, -1.1, -0.9, -0.8, -0.7, -0.6, -0.4, -0.3, -0.2, -0.1, 0.1, 0.2, 0.3, 0.4], "tickSize": -2.5, "title": null}}, "y": {"datum": 0, "type": "quantitative", "axis": {"orient": "left", "values": [-0.4, -0.3, -0.2, -0.1, 0.1, 0.2, 0.3, 0.4, 0.6, 0.7, 0.8, 0.9], "tickSize": -2.5, "title": null}}}},
        {"mark": {"type": "point", "opacity": 0}, "encoding": {"x": {"datum": 0, "type": "quantitative", "axis": {"orient": "top", "values": [-1, -0.5, 0, 0.5], "tickSize": -5, "title": null}}, "y": {"datum": 0, "type": "quantitative", "axis": {"orient": "right", "values": [-0.5, 0, 0.5, 1], "tickSize": -5, "title": null}}}},
        {"mark": {"type": "point", "opacity": 0}, "encoding": {"x": {"datum": 0, "type": "quantitative", "axis": {"orient": "top", "values": [-1.3, -1.2, -1.1, -0.9, -0.8, -0.7, -0.6, -0.4, -0.3, -0.2, -0.1, 0.1, 0.2, 0.3, 0.4], "tickSize": -2.5, "title": null}}, "y": {"datum": 0, "type": "quantitative", "axis": {"orient": "right", "values": [-0.4, -0.3, -0.2, -0.1, 0.1, 0.2, 0.3, 0.4, 0.6, 0.7, 0.8, 0.9], "tickSize": -2.5, "title": null}}}},
        {"mark": {"type": "point", "opacity": 0}, "encoding": {"x": {"datum": 0, "type": "quantitative", "axis": {"orient": "bottom", "values": [-1, -0.5, 0, 0.5], "ticks": false, "labels": true, "labelFontSize": 10, "labelPadding": 6, "labelExpr": "replace(format(datum.value, '.1f'), '\u2212', '-')", "title": "[M/H]", "titlePadding": 3}}}},
        {"mark": {"type": "rule", "color": "#555555", "strokeDash": [1, 2]}, "encoding": {"y": {"datum": 0, "type": "quantitative", "axis": null}}},
        {"mark": {"type": "rule", "color": "#555555", "strokeDash": [1, 2]}, "encoding": {"x": {"datum": 0, "type": "quantitative", "axis": null}}},
        {"transform": [{"filter": "datum.pop === 'thick'"}], "mark": {"type": "line", "color": "#ff0000", "strokeWidth": 2}, "encoding": {"x": {"field": "mh", "type": "quantitative", "axis": null}, "y": {"field": "mean", "type": "quantitative", "axis": null}}},
        {"transform": [{"filter": "datum.pop === 'thin'"}], "mark": {"type": "line", "color": "#0000ff", "strokeWidth": 2}, "encoding": {"x": {"field": "mh", "type": "quantitative", "axis": null}, "y": {"field": "mean", "type": "quantitative", "axis": null}}},
        {"mark": {"type": "rule", "strokeWidth": 2}, "encoding": {"x": {"field": "mh", "type": "quantitative", "axis": null}, "y": {"field": "lo", "type": "quantitative", "axis": null}, "y2": {"field": "hi"}, "color": {"field": "pop", "type": "nominal", "scale": {"domain": ["thin", "thick", "hamr"], "range": ["#0000ff", "#ff0000", "#22dd22"]}, "legend": null}}},
        {"transform": [{"filter": "datum.pop === 'hamr'"}], "mark": {"type": "rule", "strokeWidth": 2, "color": "#22dd22"}, "encoding": {"x": {"field": "mhlo", "type": "quantitative", "axis": null}, "x2": {"field": "mhhi"}, "y": {"field": "mean", "type": "quantitative", "axis": null}}}
      ]
    },
    {
      "width": 216, "height": 124,
      "resolve": {"axis": {"x": "independent", "y": "independent"}},
      "layer": [
        {"mark": {"type": "point", "opacity": 0}, "encoding": {"x": {"datum": 0, "type": "quantitative", "scale": {"domain": [0, 1.05], "nice": false, "zero": false}, "axis": {"orient": "bottom", "values": [0.2, 0.4, 0.6, 0.8, 1], "tickSize": -5, "title": null}}, "y": {"datum": 0, "type": "quantitative", "scale": {"domain": [-0.6, 1], "nice": false, "zero": false}, "axis": {"orient": "left", "values": [-0.5, 0, 0.5, 1], "tickSize": -5, "title": null}}}},
        {"mark": {"type": "point", "opacity": 0}, "encoding": {"x": {"datum": 0, "type": "quantitative", "axis": {"orient": "bottom", "values": [0.1, 0.3, 0.5, 0.7, 0.9], "tickSize": -3, "title": null}}, "y": {"datum": 0, "type": "quantitative", "axis": {"orient": "left", "values": [-0.4, -0.3, -0.2, -0.1, 0.1, 0.2, 0.3, 0.4, 0.6, 0.7, 0.8, 0.9], "tickSize": -2.5, "title": null}}}},
        {"mark": {"type": "point", "opacity": 0}, "encoding": {"x": {"datum": 0, "type": "quantitative", "axis": {"orient": "top", "values": [0.2, 0.4, 0.6, 0.8, 1], "tickSize": -5, "title": null}}, "y": {"datum": 0, "type": "quantitative", "axis": {"orient": "right", "values": [-0.5, 0, 0.5, 1], "tickSize": -5, "title": null}}}},
        {"mark": {"type": "point", "opacity": 0}, "encoding": {"x": {"datum": 0, "type": "quantitative", "axis": {"orient": "top", "values": [0.1, 0.3, 0.5, 0.7, 0.9], "tickSize": -3, "title": null}}, "y": {"datum": 0, "type": "quantitative", "axis": {"orient": "right", "values": [-0.4, -0.3, -0.2, -0.1, 0.1, 0.2, 0.3, 0.4, 0.6, 0.7, 0.8, 0.9], "tickSize": -2.5, "title": null}}}},
        {"mark": {"type": "point", "opacity": 0}, "encoding": {"x": {"datum": 0, "type": "quantitative", "axis": {"orient": "bottom", "values": [0.2, 0.4, 0.6, 0.8, 1], "ticks": false, "labels": true, "labelFontSize": 8, "labelPadding": 6, "format": ".1f", "title": "N", "titleFontSize": 7, "titlePadding": 2}}}},
        {"data": {"name": "dy_hist"}, "transform": [{"filter": "datum.pop === 'thin'"}], "mark": {"type": "rect", "color": "#0000ff"}, "encoding": {"x": {"field": "n", "type": "quantitative", "axis": null}, "x2": {"datum": 0}, "y": {"field": "lo", "type": "quantitative", "axis": null}, "y2": {"field": "hi"}}},
        {"data": {"name": "dy_hist"}, "transform": [{"filter": "datum.pop === 'thick'"}], "mark": {"type": "rect", "color": "#ff0000"}, "encoding": {"x": {"field": "n", "type": "quantitative", "axis": null}, "x2": {"datum": 0}, "y": {"field": "lo", "type": "quantitative", "axis": null}, "y2": {"field": "hi"}}},
        {"data": {"name": "dy_outline"}, "mark": {"type": "line", "color": "#22dd22", "strokeWidth": 2}, "encoding": {"x": {"field": "n", "type": "quantitative", "axis": null}, "y": {"field": "val", "type": "quantitative", "axis": null}, "detail": {"field": "seg", "type": "nominal"}, "order": {"field": "k", "type": "quantitative"}}}
      ]
    }
  ]
}
